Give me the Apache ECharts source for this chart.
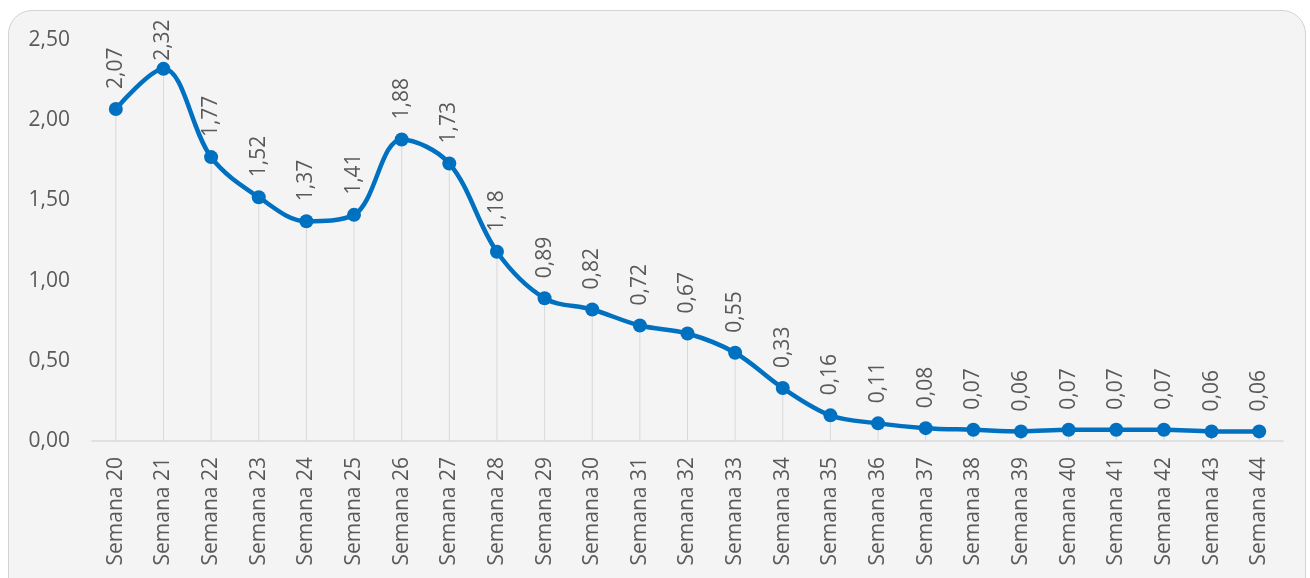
<!DOCTYPE html>
<html><head><meta charset="utf-8">
<script src="https://cdn.jsdelivr.net/npm/echarts@6/dist/echarts.min.js"></script>
<style>
html,body{margin:0;padding:0;background:#fff;overflow:hidden;}
#box{position:absolute;left:8px;top:10px;width:1296px;height:600px;border:1.5px solid #d3d3d3;border-radius:24px;background:#f4f4f4;}
#chart{position:absolute;left:0;top:0;width:1310px;height:578px;}
</style></head>
<body>
<div id="box"></div>
<div id="chart"></div>
<script>
const categories = ["Semana 20","Semana 21","Semana 22","Semana 23","Semana 24","Semana 25","Semana 26","Semana 27","Semana 28","Semana 29","Semana 30","Semana 31","Semana 32","Semana 33","Semana 34","Semana 35","Semana 36","Semana 37","Semana 38","Semana 39","Semana 40","Semana 41","Semana 42","Semana 43","Semana 44"];
const values = [2.07,2.32,1.77,1.52,1.37,1.41,1.88,1.73,1.18,0.89,0.82,0.72,0.67,0.55,0.33,0.16,0.11,0.08,0.07,0.06,0.07,0.07,0.07,0.06,0.06];
const yTicks = {min:0, max:2.5, interval:0.5};

const fmt = v => Number(v).toFixed(2).replace('.', ',');
const FONT = '"Open Sans", "Noto Sans", sans-serif';
const yMaxVal = yTicks.max;
// the label of the highest point is pulled closer so it stays inside the frame
const lineData = values.map(v => (v > yMaxVal - 0.25) ? {value:v, label:{distance:1}} : v);
const chart = echarts.init(document.getElementById('chart'), null, {renderer:'canvas'});
chart.setOption({
  backgroundColor:'transparent',
  animation:false,
  grid:{left:92, right:27, top:40, bottom:137, containLabel:false},
  xAxis:{
    type:'category', data:categories, boundaryGap:true,
    axisLine:{lineStyle:{color:'#d9d9d9', width:1.5}},
    axisTick:{show:false},
    axisLabel:{rotate:90, interval:0, color:'#595959', fontSize:21, fontFamily:FONT, margin:16}
  },
  yAxis:{
    type:'value', min:yTicks.min, max:yTicks.max, interval:yTicks.interval,
    axisLine:{show:false}, axisTick:{show:false}, splitLine:{show:false},
    axisLabel:{formatter:fmt, color:'#595959', fontSize:21, fontFamily:FONT, margin:22}
  },
  series:[
    {type:'bar', data:values, barWidth:1, itemStyle:{color:'#d9d9d9'}, silent:true, z:1},
    {type:'line', data:lineData, smooth:0.35, z:3,
     lineStyle:{color:'#0070c0', width:4.5},
     itemStyle:{color:'#0070c0'},
     symbol:'circle', symbolSize:14,
     label:{show:true, position:'top', rotate:90, align:'left', verticalAlign:'middle', distance:13,
       formatter:p=>fmt(p.value), color:'#595959', fontSize:21, fontFamily:FONT}
    }
  ]
});
</script>
</body></html>
